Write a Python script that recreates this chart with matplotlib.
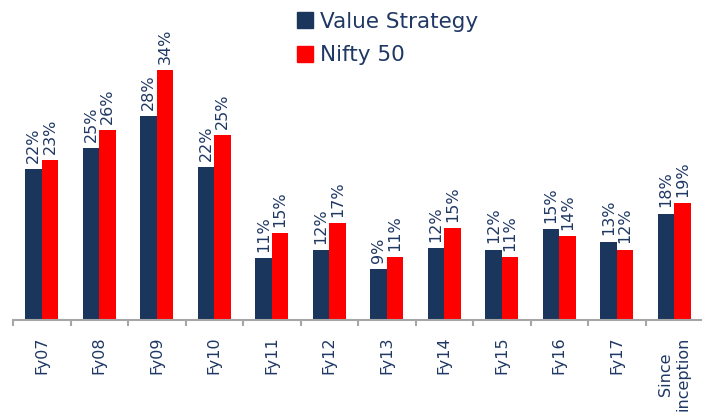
import numpy as np
import matplotlib
matplotlib.use('Agg')
import matplotlib.pyplot as plt
from matplotlib.patches import Rectangle

# data (bar heights estimated, labels as printed)
categories = ['Fy07', 'Fy08', 'Fy09', 'Fy10', 'Fy11', 'Fy12', 'Fy13',
              'Fy14', 'Fy15', 'Fy16', 'Fy17', 'Since\ninception']
value_strategy = [21.9, 24.5, 28.5, 22.1, 10.7, 11.7, 9.4, 12.0, 11.8, 14.4, 12.8, 16.3]
nifty50 = [23.0, 26.7, 34.2, 26.1, 13.9, 15.1, 10.9, 14.5, 10.9, 13.5, 11.8, 17.6]
vs_labels = ['22%', '25%', '28%', '22%', '11%', '12%', '9%', '12%', '12%', '15%', '13%', '18%']
nifty_labels = ['23%', '26%', '34%', '25%', '15%', '17%', '11%', '15%', '11%', '14%', '12%', '19%']

navy = '#1B365D'
red = '#FF0000'
text_col = '#1F3864'
grey = '#A6A6A6'

W, H = 702, 417
fig = plt.figure(figsize=(W / 100, H / 100), dpi=100)
ax = fig.add_axes([13 / W, 97 / H, 690 / W, 320 / H])

x = np.arange(len(categories))
bw = 0.287
b1 = ax.bar(x - bw / 2, value_strategy, bw, color=navy)
b2 = ax.bar(x + bw / 2, nifty50, bw, color=red)

for bars, labs in [(b1, vs_labels), (b2, nifty_labels)]:
    for rect, lab in zip(bars, labs):
        ax.annotate(lab, (rect.get_x() + rect.get_width() / 2, rect.get_height()),
                    xytext=(0, 4.5), textcoords='offset points',
                    rotation=90, ha='center', va='bottom',
                    fontsize=11.5, color=text_col)

ax.set_xlim(-0.5, len(categories) - 0.5)
ax.set_ylim(3, 43)

for s in ['top', 'right', 'left']:
    ax.spines[s].set_visible(False)
ax.spines['bottom'].set_color(grey)
ax.spines['bottom'].set_linewidth(1.5)
ax.set_yticks([])

# boundary ticks between categories, labels at centers
ax.set_xticks(np.arange(len(categories)) - 0.5)
ax.set_xticklabels([])
ax.tick_params(axis='x', which='major', length=4.5, width=1.5, color=grey)
ax.set_xticks(x, minor=True)
ax.set_xticklabels(categories, minor=True, rotation=90, fontsize=11.5,
                   color=text_col, va='top', ha='center', multialignment='center')
ax.tick_params(axis='x', which='minor', length=0, pad=12)

# legend drawn by hand
for (y0, col, lab, base) in [(12, navy, 'Value Strategy', 27.5),
                             (46, red, 'Nifty 50', 61)]:
    fig.add_artist(Rectangle((297 / W, 1 - (y0 + 16) / H), 16 / W, 16 / H,
                             transform=fig.transFigure, color=col))
    fig.text(320 / W, 1 - base / H, lab, fontsize=15.5, color=text_col,
             va='baseline', ha='left')

fig.savefig('out.png', dpi=100)
